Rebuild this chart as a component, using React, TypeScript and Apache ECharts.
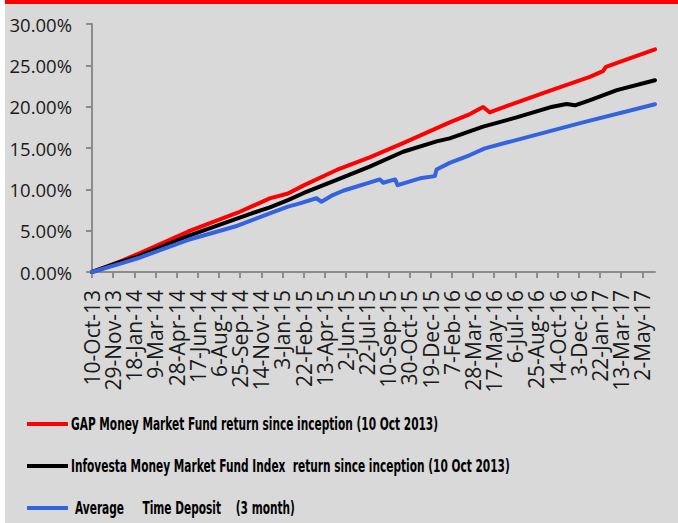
import React, { useEffect, useRef } from "react";
import * as echarts from "echarts";

const xTickLabels = [
  "10-Oct-13", "29-Nov-13", "18-Jan-14", "9-Mar-14", "28-Apr-14", "17-Jun-14",
  "6-Aug-14", "25-Sep-14", "14-Nov-14", "3-Jan-15", "22-Feb-15", "13-Apr-15",
  "2-Jun-15", "22-Jul-15", "10-Sep-15", "30-Oct-15", "19-Dec-15", "7-Feb-16",
  "28-Mar-16", "17-May-16", "6-Jul-16", "25-Aug-16", "14-Oct-16", "3-Dec-16",
  "22-Jan-17", "13-Mar-17", "2-May-17",
];
const tickStepDays = 50;
const yTicks = [0, 5, 10, 15, 20, 25, 30];

const seriesNames = [
  "GAP Money Market Fund return since inception (10 Oct 2013)",
  "Infovesta Money Market Fund Index  return since inception (10 Oct 2013)",
  "Average     Time Deposit    (3 month)",
];

// days since 10-Oct-2013, cumulative return in %
const gapDays = [0, 69, 108, 226, 344, 420, 463, 499, 578, 656, 735, 845, 893, 924, 940, 952, 1074, 1176, 1207, 1214, 1330];
const gapValues = [0, 1.33, 2.18, 4.87, 7.17, 8.9, 9.5, 10.45, 12.34, 13.87, 15.6, 18.1, 19.1, 19.96, 19.3, 19.55, 21.8, 23.6, 24.3, 24.8, 26.94];

const infovestaDays = [0, 69, 108, 226, 344, 420, 463, 499, 578, 656, 735, 814, 845, 924, 1003, 1082, 1121, 1141, 1177, 1240, 1330];
const infovestaValues = [0, 1.25, 1.85, 4.35, 6.5, 7.83, 8.7, 9.53, 11.15, 12.75, 14.55, 15.8, 16.17, 17.58, 18.7, 19.92, 20.32, 20.16, 20.8, 22.0, 23.2];

const depositDays = [0, 69, 108, 226, 344, 420, 463, 491, 530, 542, 569, 593, 680, 688, 716, 722, 775, 810, 814, 845, 893, 928, 1160, 1330];
const depositValues = [0, 1.05, 1.66, 3.87, 5.6, 7.1, 7.9, 8.31, 8.92, 8.5, 9.31, 9.83, 11.2, 10.8, 11.2, 10.5, 11.33, 11.6, 12.4, 13.2, 14.15, 14.96, 18.1, 20.3];

const colors = ["#ff0000", "#000000", "#3463e0"];

const pairs = (d: number[], v: number[]) => d.map((x, i) => [x, v[i]]);

export default function App() {
  const ref = useRef<HTMLDivElement>(null);
  useEffect(() => {
    if (!ref.current) return;
    const chart = echarts.init(ref.current, undefined, { renderer: "svg" });

    const legendFontSize = 17;
    const legendFont = "'DejaVu Sans', sans-serif";
    let scale = 0.7;
    try {
      const ctx = document.createElement("canvas").getContext("2d");
      if (ctx) {
        ctx.font = `bold ${legendFontSize}px ${legendFont}`;
        const w = ctx.measureText(seriesNames[0]).width;
        if (w > 0) scale = 367 / w;
      }
    } catch (e) {}

    const legendY = [424, 466, 508];
    const legendTextX = [71, 71, 75];
    const legendGraphics: any[] = [];
    seriesNames.forEach((n, i) => {
      legendGraphics.push({
        type: "rect",
        silent: true,
        shape: { x: 27, y: legendY[i] - 2, width: 41, height: 4 },
        style: { fill: colors[i] },
      });
      legendGraphics.push({
        type: "text",
        silent: true,
        x: legendTextX[i],
        y: legendY[i],
        scaleX: scale,
        style: {
          text: n,
          fill: "#000",
          font: `bold ${legendFontSize}px ${legendFont}`,
          verticalAlign: "middle",
          align: "left",
        },
      });
    });

    chart.setOption({
      animation: false,
      backgroundColor: "#d9d9d9",
      grid: { left: 92, right: 23, top: 24, bottom: 251, containLabel: false },
      xAxis: {
        type: "value",
        min: 0,
        max: 1330,
        interval: tickStepDays,
        splitLine: { show: false },
        axisLine: { show: true, onZero: false, lineStyle: { color: "#8c8c8c", width: 2 } },
        axisTick: {
          show: true,
          length: 6,
          lineStyle: { color: "#8c8c8c", width: 2 },
          customValues: xTickLabels.map((_, i) => i * tickStepDays),
        },
        axisLabel: {
          rotate: 90,
          margin: 18,
          fontSize: 21,
          fontFamily: "'Open Sans', sans-serif",
          color: "#1a1a1a",
          showMinLabel: true,
          showMaxLabel: true,
          hideOverlap: false,
          customValues: xTickLabels.map((_, i) => i * tickStepDays),
          formatter: (v: number) => xTickLabels[Math.round(v / tickStepDays)] ?? "",
        },
      },
      yAxis: {
        type: "value",
        min: 0,
        max: 30,
        interval: 5,
        splitLine: { show: false },
        axisLine: { show: true, lineStyle: { color: "#8c8c8c", width: 2 } },
        axisTick: { show: true, length: 6, lineStyle: { color: "#8c8c8c", width: 2 }, customValues: yTicks },
        axisLabel: {
          margin: 20,
          fontSize: 18.5,
          fontFamily: "'Open Sans', sans-serif",
          color: "#1a1a1a",
          customValues: yTicks,
          formatter: (v: number) => v.toFixed(2) + "%",
        },
      },
      series: [
        { name: seriesNames[0], data: pairs(gapDays, gapValues) },
        { name: seriesNames[1], data: pairs(infovestaDays, infovestaValues) },
        { name: seriesNames[2], data: pairs(depositDays, depositValues) },
      ].map((s, i) => ({
        ...s,
        type: "line",
        showSymbol: false,
        symbol: "none",
        color: colors[i],
        lineStyle: { color: colors[i], width: 4, cap: "round", join: "round" },
      })),
      graphic: [
        { type: "rect", shape: { x: 0, y: 0, width: 5, height: 523 }, style: { fill: "#ffffff" }, silent: true },
        { type: "rect", shape: { x: 5, y: 0, width: 673, height: 4 }, style: { fill: "#ff0000" }, silent: true },
        ...legendGraphics,
      ],
    });
    return () => chart.dispose();
  }, []);
  return (
    <div style={{ position: "absolute", left: 0, top: 0, width: 678, height: 523 }}>
      <div ref={ref} style={{ width: 678, height: 523 }} />
    </div>
  );
}
